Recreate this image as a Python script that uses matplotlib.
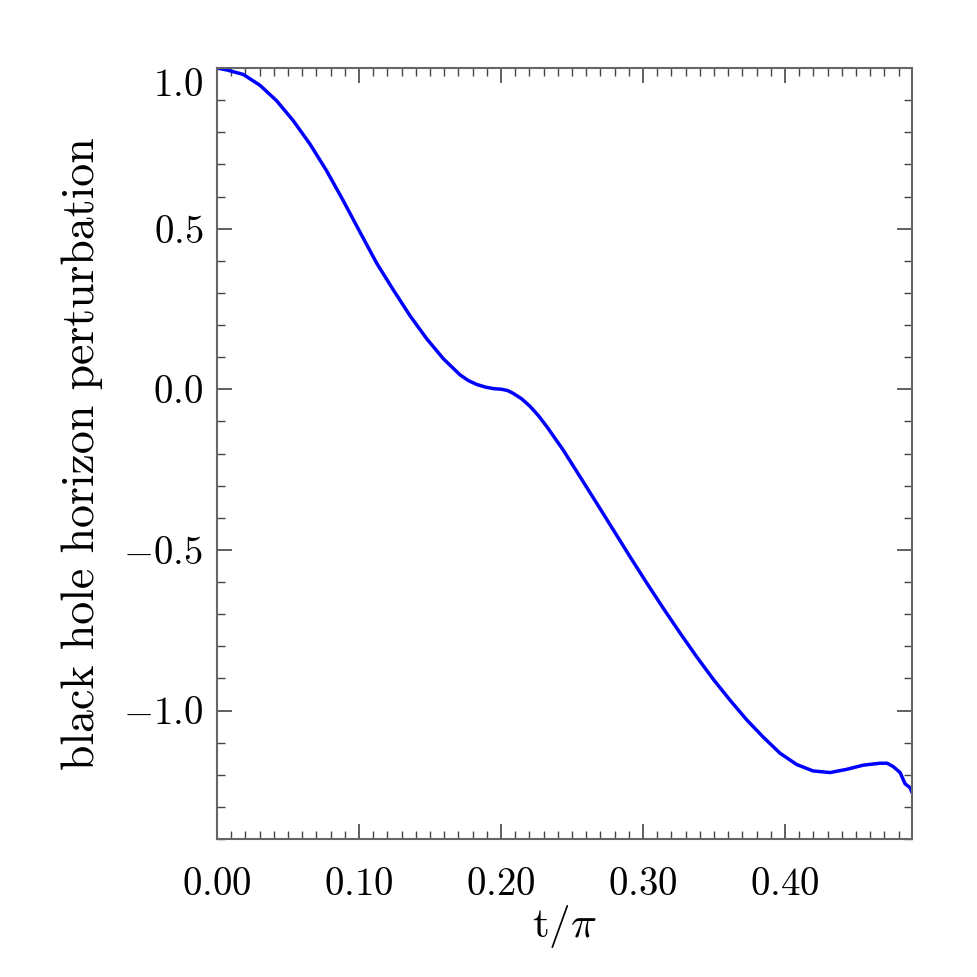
"""
Black hole horizon perturbation vs t/pi, IDL-style line plot.
"""
import numpy as np
import matplotlib

matplotlib.use("Agg")
import matplotlib.pyplot as plt
from matplotlib.ticker import MultipleLocator, FuncFormatter

plt.rcParams.update(
    {
        "font.family": "serif",
        "font.serif": ["cmr10"],
        "mathtext.fontset": "cm",
        "axes.formatter.use_mathtext": True,
    }
)

# values
t_over_pi = [
    0.0, 0.0068, 0.0185, 0.0303, 0.042, 0.0537, 0.0655, 0.0772, 0.0889,
    0.1007, 0.1125, 0.1242, 0.1359, 0.1477, 0.1594, 0.1711, 0.1770, 0.1829,
    0.1888, 0.1946, 0.2005, 0.2046, 0.2087, 0.2146, 0.2204, 0.2263, 0.2322,
    0.2439, 0.2556, 0.2674, 0.2791, 0.2908, 0.3026, 0.3143, 0.3261, 0.3378,
    0.3495, 0.3613, 0.373, 0.3847, 0.3965, 0.4082, 0.4197, 0.4317, 0.4434,
    0.4551, 0.4669, 0.4718, 0.476, 0.481, 0.4845, 0.488, 0.4894,
]
perturbation = [
    1.000, 0.994, 0.980, 0.946, 0.898, 0.836, 0.763, 0.680, 0.587,
    0.489, 0.392, 0.309, 0.229, 0.157, 0.095, 0.045, 0.027, 0.015,
    0.007, 0.002, 0.000, -0.004, -0.013, -0.030, -0.053, -0.082, -0.116,
    -0.190, -0.272, -0.355, -0.438, -0.521, -0.603, -0.682, -0.759, -0.833,
    -0.903, -0.968, -1.029, -1.083, -1.133, -1.168, -1.188, -1.193, -1.183,
    -1.170, -1.164, -1.164, -1.174, -1.193, -1.228, -1.240, -1.255,
]
x_ticks = [0.0, 0.1, 0.2, 0.3, 0.4]
y_ticks = [-1.0, -0.5, 0.0, 0.5, 1.0]

fig = plt.figure(figsize=(9.77, 9.77), dpi=100)
ax = fig.add_axes([0.2221, 0.1412, 0.7114, 0.7892])

ax.plot(t_over_pi, perturbation, color="#0000ff", linewidth=2.5,
        solid_joinstyle="round")

ax.set_xlim(0, 0.4894)
ax.set_ylim(-1.4, 1.0)

ax.set_xticks(x_ticks)
ax.set_yticks(y_ticks)
ax.xaxis.set_minor_locator(MultipleLocator(0.01))
ax.yaxis.set_minor_locator(MultipleLocator(0.1))
ax.xaxis.set_major_formatter(FuncFormatter(lambda v, p: f"${v:.2f}$"))
ax.yaxis.set_major_formatter(FuncFormatter(lambda v, p: f"${v:.1f}$"))

ax.tick_params(which="both", direction="in", top=True, right=True,
               color="#444444", labelsize=28)
ax.tick_params(which="major", length=11, width=1.2)
ax.tick_params(which="minor", length=5.5, width=1.0)
ax.tick_params(axis="x", which="major", pad=20)
ax.tick_params(axis="y", which="major", pad=10)

# top label sits inside the frame, IDL style
ax.yaxis.get_major_ticks()[y_ticks.index(1.0)].label1.set_verticalalignment("top")

for s in ax.spines.values():
    s.set_color("#666666")
    s.set_linewidth(1.5)

ax.set_xlabel(r"$\mathrm{t}/\pi$", fontsize=31, labelpad=0)
ax.set_ylabel("black hole horizon perturbation", fontsize=33, labelpad=14)

fig.savefig("out.png", dpi=100)
